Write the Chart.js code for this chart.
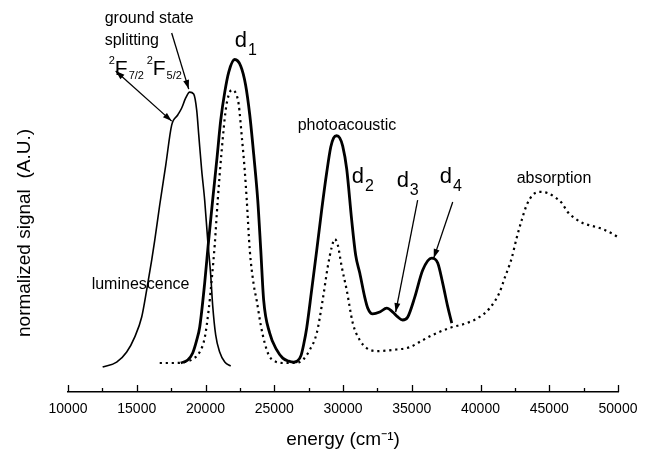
<!DOCTYPE html>
<html>
<head>
<meta charset="utf-8">
<script src="https://cdn.jsdelivr.net/npm/chart.js@4.4.1/dist/chart.umd.min.js"></script>
<style>
  body { margin: 0; background: #fff; }
  canvas { display: block; }
</style>
</head>
<body>
<canvas id="spectra" width="652" height="456"></canvas>
<script>
// luminescence (thin line)
const lumEnergy = [12520, 13540, 14270, 14850, 15360, 15720, 16090, 16310, 16670, 17110, 17540, 17980, 18270, 18560, 18850, 19140, 19360, 19510, 19720, 19940, 20160, 20380, 20520, 20740, 21030, 21400, 21830];
const lumSignal = [-0.008, 0.008, 0.041, 0.090, 0.156, 0.244, 0.343, 0.408, 0.523, 0.654, 0.785, 0.818, 0.841, 0.874, 0.893, 0.887, 0.834, 0.752, 0.638, 0.539, 0.408, 0.293, 0.195, 0.097, 0.041, 0.008, -0.005];

// photoacoustic (bold line)
const paEnergy = [18200, 18710, 19070, 19360, 19580, 19940, 20230, 20520, 20820, 21110, 21400, 21690, 22120, 22560, 22920, 23220, 23510, 23800, 24020, 24230, 24670, 25180, 25620, 26050, 26420, 26700, 26950, 27150, 27360, 27720, 28090, 28450, 28820, 29110, 29320, 29540, 29760, 29980, 30270, 30630, 30920, 31220, 31580, 31800, 32160, 32670, 33180, 33620, 33980, 34340, 34710, 35220, 35800, 36450, 36890, 37250, 37620, 37910];
const paSignal = [0.005, 0.015, 0.038, 0.080, 0.123, 0.267, 0.408, 0.539, 0.670, 0.802, 0.893, 0.959, 1.000, 0.979, 0.916, 0.818, 0.687, 0.539, 0.375, 0.211, 0.103, 0.048, 0.021, 0.011, 0.008, 0.012, 0.030, 0.068, 0.120, 0.244, 0.375, 0.507, 0.631, 0.713, 0.743, 0.750, 0.743, 0.716, 0.641, 0.474, 0.359, 0.300, 0.221, 0.185, 0.166, 0.172, 0.185, 0.172, 0.156, 0.146, 0.156, 0.221, 0.310, 0.349, 0.333, 0.267, 0.189, 0.136];

// absorption (dotted line)
const absEnergy = [16670, 17760, 18490, 19070, 19580, 19940, 20230, 20450, 20670, 20890, 21180, 21470, 21690, 21910, 22200, 22420, 22630, 22850, 23000, 23220, 23510, 23720, 24020, 24310, 24600, 24890, 25620, 26490, 27070, 27580, 28090, 28520, 28890, 29180, 29400, 29620, 29910, 30270, 30710, 31220, 31720, 32450, 33620, 34850, 35800, 36520, 37760, 39000, 39940, 40670, 41400, 41760, 42270, 42630, 43000, 43360, 43800, 44310, 44890, 45400, 45910, 46340, 46850, 47430, 48160, 48890, 49620, 49980];
const absSignal = [0.005, 0.005, 0.008, 0.018, 0.041, 0.087, 0.179, 0.277, 0.392, 0.539, 0.703, 0.834, 0.884, 0.900, 0.890, 0.851, 0.752, 0.638, 0.539, 0.375, 0.261, 0.211, 0.129, 0.070, 0.031, 0.015, 0.005, 0.005, 0.015, 0.048, 0.103, 0.211, 0.320, 0.385, 0.411, 0.392, 0.320, 0.244, 0.136, 0.080, 0.054, 0.044, 0.048, 0.057, 0.080, 0.097, 0.120, 0.136, 0.156, 0.185, 0.238, 0.284, 0.349, 0.415, 0.474, 0.523, 0.556, 0.566, 0.562, 0.549, 0.530, 0.500, 0.480, 0.464, 0.454, 0.444, 0.428, 0.418];

const majorTicks = [10000, 15000, 20000, 25000, 30000, 35000, 40000, 45000, 50000];
const minorTicks = [12500, 17500, 22500, 27500, 32500, 37500, 42500, 47500];

const FONT = "'Liberation Sans', Arial, Helvetica, sans-serif";
Chart.defaults.font.family = FONT;
Chart.defaults.color = '#000';

function toPoints(xs, ys) {
    return xs.map((x, i) => ({ x: x, y: ys[i] }));
}

function arrowHead(ctx, x1, y1, x2, y2) {
    const a = Math.atan2(y2 - y1, x2 - x1);
    const len = 9, half = 3;
    ctx.beginPath();
    ctx.moveTo(x2, y2);
    ctx.lineTo(x2 - len * Math.cos(a) + half * Math.sin(a), y2 - len * Math.sin(a) - half * Math.cos(a));
    ctx.lineTo(x2 - len * Math.cos(a) - half * Math.sin(a), y2 - len * Math.sin(a) + half * Math.cos(a));
    ctx.closePath();
    ctx.fill();
}

// draws a main glyph with optional superscript before and subscript after
function label(ctx, x, y, sup, main, sub, mainSize, smallSize, subDrop) {
    let cx = x;
    if (sup) {
        ctx.font = smallSize + 'px ' + FONT;
        ctx.fillText(sup, cx, y - mainSize * 0.55);
        cx += ctx.measureText(sup).width;
    }
    ctx.font = mainSize + 'px ' + FONT;
    ctx.fillText(main, cx, y);
    cx += ctx.measureText(main).width + 1;
    if (sub) {
        ctx.font = smallSize + 'px ' + FONT;
        ctx.fillText(sub, cx, y + subDrop);
    }
}

const annotations = {
    id: 'annotations',
    afterDraw(chart) {
        const ctx = chart.ctx;
        const xs = chart.scales.x, ys = chart.scales.y;
        const px = e => xs.getPixelForValue(e);
        const py = v => ys.getPixelForValue(v);

        ctx.save();
        ctx.fillStyle = '#000';
        ctx.strokeStyle = '#000';
        ctx.textBaseline = 'alphabetic';
        ctx.textAlign = 'left';

        // axis tick marks, pointing up
        ctx.lineWidth = 1.3;
        const bottom = chart.chartArea.bottom;
        majorTicks.concat(minorTicks).forEach(t => {
            const h = majorTicks.includes(t) ? 7 : 4;
            ctx.beginPath();
            ctx.moveTo(Math.round(px(t)) + 0.5, bottom);
            ctx.lineTo(Math.round(px(t)) + 0.5, bottom - h);
            ctx.stroke();
        });

        // plain text labels
        ctx.font = '16px ' + FONT;
        ctx.fillText('ground state', px(12670), py(1.120));
        ctx.fillText('splitting', px(12670), py(1.048));
        ctx.fillText('luminescence', px(11720), py(0.248));
        ctx.fillText('photoacoustic', px(26700), py(0.769));
        ctx.fillText('absorption', px(42630), py(0.595));

        // term symbols
        label(ctx, px(12960), py(0.949), '2', 'F', '7/2', 21, 11, 4);
        label(ctx, px(15720), py(0.949), '2', 'F', '5/2', 21, 11, 4);

        // d bands
        label(ctx, px(22120), py(1.041), null, 'd', '1', 22, 16, 8);
        label(ctx, px(30630), py(0.595), null, 'd', '2', 22, 16, 8);
        label(ctx, px(33900), py(0.582), null, 'd', '3', 22, 16, 8);
        label(ctx, px(37030), py(0.595), null, 'd', '4', 22, 16, 8);

        // arrows
        ctx.lineWidth = 1.3;
        const arrows = [
            [17540, 1.087, 18780, 0.903, false],
            [13470, 0.962, 17540, 0.798, true],
            [35430, 0.539, 33830, 0.172, false],
            [37980, 0.533, 36600, 0.349, false]
        ];
        arrows.forEach(([e1, v1, e2, v2, both]) => {
            const x1 = px(e1), y1 = py(v1), x2 = px(e2), y2 = py(v2);
            ctx.beginPath();
            ctx.moveTo(x1, y1);
            ctx.lineTo(x2, y2);
            ctx.stroke();
            arrowHead(ctx, x1, y1, x2, y2);
            if (both) arrowHead(ctx, x2, y2, x1, y1);
        });

        // y axis title
        ctx.translate(25, 233);
        ctx.rotate(-Math.PI / 2);
        ctx.textAlign = 'center';
        ctx.textBaseline = 'middle';
        ctx.font = '19px ' + FONT;
        ctx.fillText('normalized signal  (A.U.)', 0, 0);
        ctx.restore();
    }
};

const ctxSpectra = document.getElementById('spectra').getContext('2d');

const spectraChart = new Chart(ctxSpectra, {
    type: 'line',
    data: {
        datasets: [{
            label: 'absorption',
            data: toPoints(absEnergy, absSignal),
            borderColor: '#000',
            borderWidth: 2.2,
            borderDash: [2.2, 3.8],
            pointRadius: 0,
            fill: false
        }, {
            label: 'photoacoustic',
            data: toPoints(paEnergy, paSignal),
            borderColor: '#000',
            borderWidth: 2.8,
            pointRadius: 0,
            fill: false
        }, {
            label: 'luminescence',
            data: toPoints(lumEnergy, lumSignal),
            borderColor: '#000',
            borderWidth: 1.6,
            pointRadius: 0,
            fill: false
        }]
    },
    options: {
        responsive: false,
        animation: false,
        cubicInterpolationMode: 'monotone',
        layout: { padding: { left: 68, right: 34, top: 29, bottom: 0 } },
        plugins: {
            legend: { display: false },
            tooltip: { enabled: false }
        },
        scales: {
            x: {
                type: 'linear',
                min: 10000,
                max: 50000,
                afterBuildTicks: scale => { scale.ticks = majorTicks.map(v => ({ value: v })); },
                afterFit: scale => { scale.height = 64; },
                grid: { display: false, drawTicks: false },
                border: { display: true, color: '#000', width: 1.5 },
                ticks: {
                    padding: 9,
                    maxRotation: 0,
                    autoSkip: false,
                    font: { size: 14 },
                    callback: v => String(v)
                },
                title: {
                    display: true,
                    text: 'energy (cm⁻¹)',
                    font: { size: 19 },
                    padding: { top: 0, bottom: 5 }
                }
            },
            y: {
                display: false,
                min: -0.09,
                max: 1.1
            }
        }
    },
    plugins: [annotations]
});
</script>
</body>
</html>
